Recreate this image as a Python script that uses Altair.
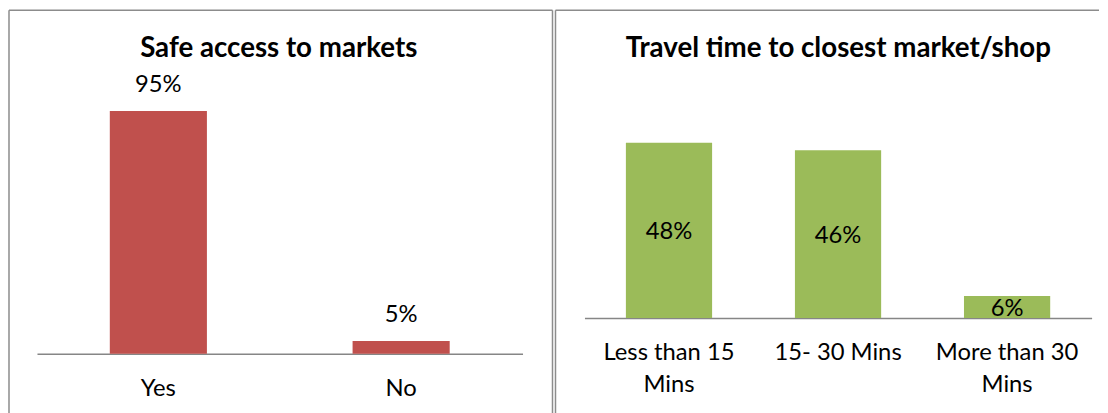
import altair as alt
import pandas as pd

# ---- data ----
safe_categories = ["Yes", "No"]
safe_values = [0.95, 0.05]
travel_categories = ["Less than 15\nMins", "15- 30 Mins", "More than 30\nMins"]
travel_values = [0.48, 0.46, 0.06]
titles = ["Safe access to markets", "Travel time to closest market/shop"]

FONT = "Lato"
BORDER = "#8c8c8c"
AXIS = "#868686"
RED = "#C0504D"
GREEN = "#9BBB59"
LABEL_FS = 23.8
TITLE_FS = 27.7

W1, H1 = 544, 344
W2, H2 = 544, 308
BH = 410


def axis_x():
    return alt.Axis(
        domainColor=AXIS, domainWidth=1.5, ticks=False, grid=False, labelAngle=0,
        labelPadding=23, labelFontSize=LABEL_FS, labelFont=FONT, labelColor="black",
        labelBaseline="top", labelLineHeight=32, labelLimit=400, labelOverlap=False,
        labelExpr="split(datum.label, '\\n')", title=None,
    )


def borders(width, right=True):
    one = alt.Data(values=[{}])
    parts = [
        alt.Chart(one).mark_rule(color=BORDER, strokeWidth=1.5).encode(
            x=alt.value(0), y=alt.value(0), y2=alt.value(BH)),
        alt.Chart(one).mark_rule(color=BORDER, strokeWidth=1.5).encode(
            x=alt.value(0), x2=alt.value(width), y=alt.value(0)),
    ]
    if right:
        parts.append(alt.Chart(one).mark_rule(color=BORDER, strokeWidth=1.5).encode(
            x=alt.value(width), y=alt.value(0), y2=alt.value(BH)))
    return parts


def title_mark(text, cx):
    return alt.Chart(alt.Data(values=[{"t": text}])).mark_text(
        font=FONT, fontSize=TITLE_FS, fontWeight="bold", color="black", baseline="middle"
    ).encode(text="t:N", x=alt.value(cx), y=alt.value(39))


# ---- left panel ----
safe_df = pd.DataFrame({"cat": safe_categories, "value": safe_values})
x1 = alt.X("cat:N", sort=safe_categories,
           scale=alt.Scale(range=[28, 514], paddingInner=0.6, paddingOuter=0.3),
           axis=axis_x())
y1 = alt.Y("value:Q", scale=alt.Scale(domain=[0, 1], range=[H1, 88]), axis=None)
base1 = alt.Chart(safe_df).encode(x=x1, y=y1)
bars1 = base1.mark_bar(color=RED)
text1 = base1.mark_text(font=FONT, fontSize=LABEL_FS, color="black", baseline="middle", dy=-26).encode(
    text=alt.Text("value:Q", format=".0%"))
left = alt.layer(*borders(W1), title_mark(titles[0], 270), bars1, text1).properties(width=W1, height=H1)

# ---- right panel ----
travel_df = pd.DataFrame({"cat": travel_categories, "value": travel_values})
x2 = alt.X("cat:N", sort=travel_categories,
           scale=alt.Scale(range=[29, 536.6], paddingInner=0.49, paddingOuter=0.245),
           axis=axis_x())
ysc2 = alt.Scale(domain=[0, 0.6], range=[H2, 89])
base2 = alt.Chart(travel_df).encode(x=x2)
bars2 = base2.mark_bar(color=GREEN).encode(y=alt.Y("value:Q", scale=ysc2, axis=None))
text2 = base2.transform_calculate(mid="datum.value / 2").mark_text(
    font=FONT, fontSize=LABEL_FS, color="black", baseline="middle", dy=2).encode(
    y=alt.Y("mid:Q", scale=ysc2, axis=None),
    text=alt.Text("value:Q", format=".0%"))
right = alt.layer(*borders(W2, right=False), title_mark(titles[1], 283), bars2, text2).properties(width=W2, height=H2)

chart = alt.hconcat(left, right, spacing=1).properties(
    padding={"left": 0, "top": 1, "right": 0, "bottom": 0}
).configure_view(stroke=None)

chart.save("out.html", embed_options={"renderer": "svg", "actions": False})
